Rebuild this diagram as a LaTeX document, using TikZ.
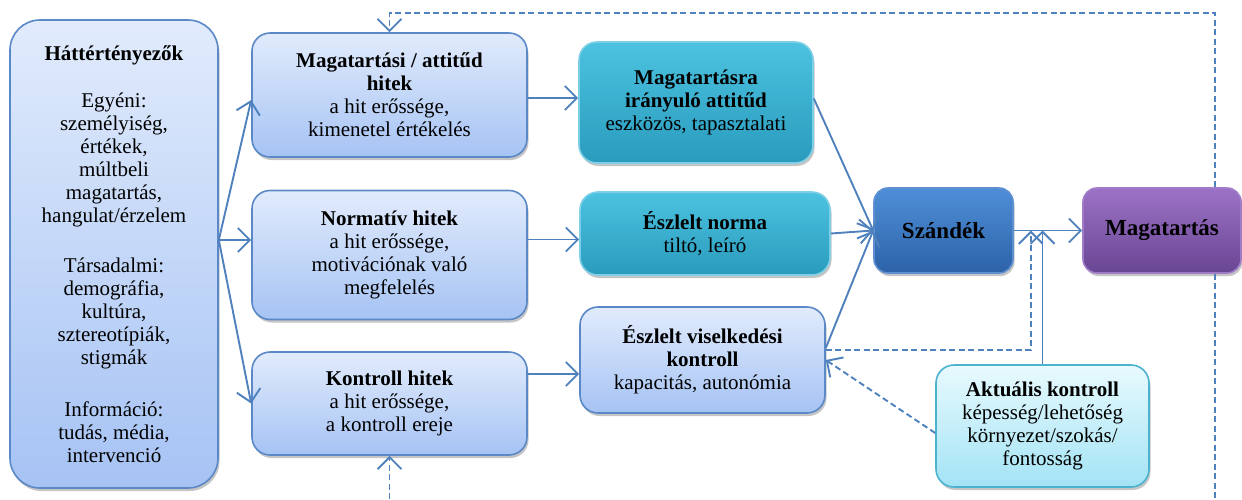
\documentclass[tikz,border=0pt]{standalone}
\usepackage{fontspec}
\setmainfont{Liberation Serif}
\usetikzlibrary{arrows.meta,shadows,calc}
\definecolor{lncol}{HTML}{4F81BD}
\definecolor{lbtop}{HTML}{E1EBFC}
\definecolor{lbbot}{HTML}{A6C3F4}
\definecolor{lbdraw}{HTML}{5B88C6}
\definecolor{tltop}{HTML}{4CC2E0}
\definecolor{tlbot}{HTML}{2A9BBD}
\definecolor{tldraw}{HTML}{7CCFE6}
\definecolor{sztop}{HTML}{4F8FD8}
\definecolor{szbot}{HTML}{2C62A8}
\definecolor{szdraw}{HTML}{5E8FD0}
\definecolor{mgtop}{HTML}{9C72C6}
\definecolor{mgbot}{HTML}{694694}
\definecolor{mgdraw}{HTML}{A07CC8}
\definecolor{aktop}{HTML}{E8FAFE}
\definecolor{akbot}{HTML}{A3E3F5}
\definecolor{akdraw}{HTML}{4BB3CF}
\newcommand{\fsA}{\fontsize{21}{23}\selectfont}
\newcommand{\fsB}{\fontsize{23}{25}\selectfont}
\tikzset{
  basebox/.style={line width=1.6pt, align=center, font=\fsA, inner sep=2pt,
    drop shadow={opacity=0.45, shadow xshift=1.5pt, shadow yshift=-3pt}},
  lbox/.style={basebox, draw=lbdraw, top color=lbtop, bottom color=lbbot, rounded corners=18pt},
  tbox/.style={basebox, draw=tldraw, top color=tltop, bottom color=tlbot, rounded corners=18pt},
  szbox/.style={basebox, draw=szdraw, top color=sztop, bottom color=szbot, rounded corners=14pt, font=\fsB\bfseries},
  mgbox/.style={basebox, draw=mgdraw, top color=mgtop, bottom color=mgbot, rounded corners=14pt, font=\fsB\bfseries},
  akbox/.style={basebox, draw=akdraw, top color=aktop, bottom color=akbot, rounded corners=18pt},
  conn/.style={draw=lncol, line width=1.9pt, -{Straight Barb[length=12pt,width=24pt]}},
  dconn/.style={conn, dash pattern=on 6pt off 3.5pt},
  dline/.style={draw=lncol, line width=1.9pt, dash pattern=on 6pt off 3.5pt},
}
\begin{document}
\begin{tikzpicture}[x=1pt,y=-1pt]
\useasboundingbox (0,0) rectangle (1242,499);
\fill[white] (0,0) rectangle (1242,499);

\node[lbox, rounded corners=30pt, minimum width=208pt, minimum height=468pt] (hat) at (114,254)
  {\textbf{Háttértényezők}\\[24pt]
   Egyéni:\\ személyiség,\\ értékek,\\ múltbeli\\ magatartás,\\ hangulat/érzelem\\[27pt]
   Társadalmi:\\ demográfia,\\ kultúra,\\ sztereotípiák,\\ stigmák\\[29pt]
   Információ:\\ tudás, média,\\ intervenció};

\node[lbox, minimum width=275pt, minimum height=124pt] (mh) at (389.5,95)
  {\textbf{Magatartási / attitűd}\\ \textbf{hitek}\\ a hit erőssége,\\ kimenetel értékelés};
\node[lbox, minimum width=275pt, minimum height=129pt] (nh) at (389.5,255)
  {\textbf{Normatív hitek}\\ a hit erőssége,\\ motivációnak való\\ megfelelés};
\node[lbox, minimum width=275pt, minimum height=103pt] (kh) at (389.5,403.5)
  {\textbf{Kontroll hitek}\\ a hit erőssége,\\ a kontroll ereje};

\node[tbox, minimum width=234pt, minimum height=121pt] (ma) at (696,102.5)
  {\textbf{Magatartásra}\\ \textbf{irányuló attitűd}\\ eszközös, tapasztalati};
\node[tbox, minimum width=250pt, minimum height=83pt] (en) at (705,233.5)
  {\textbf{Észlelt norma}\\ tiltó, leíró};
\node[lbox, minimum width=245pt, minimum height=106pt] (evk) at (702.5,360)
  {\textbf{Észlelt viselkedési}\\ \textbf{kontroll}\\ kapacitás, autonómia};

\node[szbox, minimum width=139pt, minimum height=85pt] (sz) at (943.5,230.5) {Szándék};
\node[mgbox, minimum width=158pt, minimum height=85pt] (mg) at (1162,230.5) {Magatartás};

\node[akbox, minimum width=213pt, minimum height=122pt] (ak) at (1042.5,426)
  {\textbf{Aktuális kontroll}\\ képesség/lehetőség\\ környezet/szokás/\\ fontosság};

% from background factors
\draw[conn] ([yshift=14pt]hat.east) -- ([yshift=-5pt]mh.west);
\draw[conn] ([yshift=14pt]hat.east) -- ([yshift=15pt]nh.west);
\draw[conn] ([yshift=14pt]hat.east) -- (kh.west);

% beliefs to attitudes
\path ([yshift=-3pt]mh.east) coordinate (a1);
\draw[conn] (a1) -- (a1 -| ma.west);
\path ([yshift=-6pt]en.west) coordinate (a2);
\draw[conn] (nh.east |- a2) -- (a2);
\path ([yshift=-14pt]evk.west) coordinate (a3);
\draw[conn] (kh.east |- a3) -- (a3);

% to intention
\draw[conn] ([yshift=4pt]ma.east) -- (sz.west);
\draw[conn] (en.east) -- (sz.west);
\draw[conn] ([yshift=12pt]evk.east) -- (sz.west);
\draw[conn] (sz.east) -- (mg.west);

% moderators
\path ([yshift=10pt]evk.east) coordinate (d0);
\path ([xshift=17pt]sz.east) coordinate (j1);
\draw[dconn] (d0) -| (j1);
\draw[conn] (ak.north) -- (ak.north |- sz.east);
\draw[dconn] ([yshift=-7pt]ak.west) -- (evk.east);

% feedback loops
\coordinate (ftop) at (1215,13);
\draw[dconn] (ftop |- mg.north) -- (ftop) -| (mh.north);
\coordinate (fbot) at (1215,499);
\draw[dline] (fbot |- mg.south) -- (fbot);
\coordinate (fbot2) at (389.5,499);
\draw[dconn] (fbot2) -- (kh.south);
\end{tikzpicture}
\end{document}
